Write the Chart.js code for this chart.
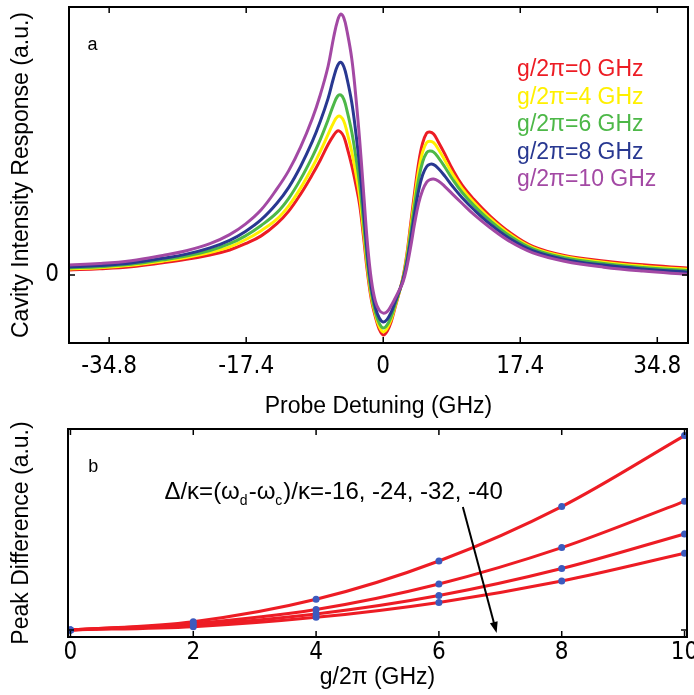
<!DOCTYPE html>
<html>
<head>
<meta charset="utf-8">
<script src="https://cdn.jsdelivr.net/npm/chart.js@4.4.0/dist/chart.umd.min.js"></script>
<style>
  html, body { margin: 0; padding: 0; background: #fff; }
  #wrap { position: relative; width: 694px; height: 695px; overflow: hidden; }
  #chartA { position: absolute; left: 0; top: 0; }
  #chartB { position: absolute; left: 0; top: 420px; }
</style>
</head>
<body>
<div id="wrap">
  <canvas id="chartA" width="694" height="420"></canvas>
  <canvas id="chartB" width="694" height="275"></canvas>
</div>
<script>
// ---- panel a: cavity response vs probe detuning ----
const detuning = [-40, -36, -32, -28, -25, -22, -19.5, -17.5, -15.5, -13.5, -12, -10.5, -9, -8, -7, -6.3, -5.8, -5.4, -5.0, -4.6,
    -4.0, -3.5, -3.0, -2.5, -2.0, -1.5, -1.0, -0.5, 0, 0.5, 1.0, 1.5, 2.0, 2.5, 3.0, 3.5, 4.0, 4.5, 5.0, 5.5, 5.9, 6.4, 7.0, 7.8,
    8.8, 10, 11.5, 13.5, 16, 19, 23, 28, 33, 38.6];
const resp_g0 = [0.019, 0.024, 0.032, 0.047, 0.06, 0.077, 0.096, 0.12, 0.15, 0.197, 0.245, 0.31, 0.385, 0.44, 0.5, 0.535, 0.552,
    0.548, 0.53, 0.49, 0.42, 0.35, 0.27, 0.145, 0.01, -0.095, -0.16, -0.208, -0.23, -0.215, -0.18, -0.125, -0.07, -0.01, 0.08,
    0.2, 0.32, 0.43, 0.505, 0.543, 0.548, 0.54, 0.51, 0.465, 0.405, 0.345, 0.29, 0.228, 0.165, 0.11, 0.075, 0.054, 0.039, 0.027];
const resp_g4 = [0.023, 0.028, 0.037, 0.053, 0.067, 0.086, 0.108, 0.135, 0.17, 0.214, 0.265, 0.333, 0.413, 0.473, 0.539, 0.584,
    0.607, 0.607, 0.589, 0.548, 0.473, 0.394, 0.303, 0.168, 0.026, -0.084, -0.151, -0.198, -0.218, -0.204, -0.171, -0.12, -0.069,
    -0.013, 0.071, 0.183, 0.297, 0.401, 0.471, 0.507, 0.513, 0.507, 0.482, 0.441, 0.387, 0.332, 0.279, 0.219, 0.158, 0.105,
    0.071, 0.049, 0.034, 0.022];
const resp_g6 = [0.027, 0.032, 0.041, 0.058, 0.073, 0.094, 0.12, 0.15, 0.19, 0.239, 0.294, 0.367, 0.453, 0.519, 0.595, 0.653,
    0.685, 0.69, 0.673, 0.63, 0.549, 0.457, 0.349, 0.2, 0.045, -0.071, -0.141, -0.185, -0.203, -0.191, -0.16, -0.114, -0.067,
    -0.016, 0.06, 0.164, 0.272, 0.368, 0.433, 0.468, 0.475, 0.471, 0.45, 0.415, 0.367, 0.317, 0.267, 0.21, 0.151, 0.1, 0.066,
    0.044, 0.029, 0.017];
const resp_g8 = [0.031, 0.036, 0.046, 0.064, 0.08, 0.104, 0.133, 0.167, 0.212, 0.275, 0.336, 0.416, 0.512, 0.588, 0.677, 0.756,
    0.802, 0.815, 0.798, 0.753, 0.662, 0.551, 0.418, 0.248, 0.075, -0.05, -0.124, -0.165, -0.18, -0.17, -0.143, -0.104, -0.064,
    -0.021, 0.046, 0.139, 0.238, 0.325, 0.383, 0.415, 0.424, 0.423, 0.408, 0.38, 0.34, 0.297, 0.251, 0.197, 0.141, 0.093, 0.06,
    0.038, 0.023, 0.011];
const resp_g10 = [0.038, 0.044, 0.055, 0.075, 0.093, 0.12, 0.155, 0.195, 0.25, 0.33, 0.40, 0.49, 0.6, 0.69, 0.8, 0.91, 0.975,
    1.0, 0.985, 0.935, 0.83, 0.69, 0.52, 0.32, 0.12, -0.02, -0.1, -0.135, -0.146, -0.14, -0.118, -0.09, -0.06, -0.028, 0.03,
    0.11, 0.2, 0.275, 0.325, 0.355, 0.365, 0.368, 0.36, 0.34, 0.31, 0.275, 0.232, 0.183, 0.13, 0.085, 0.053, 0.03, 0.015, 0.003];
const legendLabels = ['g/2π=0 GHz', 'g/2π=4 GHz', 'g/2π=6 GHz', 'g/2π=8 GHz', 'g/2π=10 GHz'];
const detuningTicks = [-34.8, -17.4, 0, 17.4, 34.8];
const detuningTickLabels = ['-34.8', '-17.4', '0', '17.4', '34.8'];
const responseTicks = [0];

// ---- panel b: peak difference vs coupling ----
const couplingG = [0, 2, 4, 6, 8, 10];
const diff_16 = [0, 0.043, 0.158, 0.355, 0.635, 1.0];
const diff_24 = [0, 0.034, 0.106, 0.237, 0.424, 0.662];
const diff_32 = [0, 0.026, 0.082, 0.177, 0.316, 0.494];
const diff_40 = [0, 0.017, 0.065, 0.142, 0.252, 0.395];
const deltaRatios = [-16, -24, -32, -40];
const couplingTicks = [0, 2, 4, 6, 8, 10];

const FONT = '"Liberation Sans", Arial, Helvetica, sans-serif';
const TICKFONT = '"Liberation Sans Narrow", "DejaVu Sans Condensed", "Liberation Sans", Arial, sans-serif';
const colors = ['rgb(237,28,36)', 'rgb(255,240,0)', 'rgb(77,184,72)', 'rgb(40,56,145)', 'rgb(163,73,164)'];

const toPoints = (xs, ys) => xs.map((x, i) => ({ x: x, y: ys[i] }));

// keep the plot box where it is, labels may overhang
const noPad = (s) => { s.paddingTop = 0; s.paddingBottom = 0; s.paddingLeft = 0; s.paddingRight = 0; };

// box + inward ticks like matlab
const frameTicks = {
    id: 'frameTicks',
    afterDatasetsDraw(chart) {
        const { ctx, chartArea: a, scales: { x, y } } = chart;
        ctx.save();
        ctx.strokeStyle = '#000';
        ctx.lineWidth = 1.5;
        ctx.beginPath();
        x.ticks.forEach((t) => {
            const px = x.getPixelForValue(t.value);
            ctx.moveTo(px, a.bottom); ctx.lineTo(px, a.bottom - 6);
            ctx.moveTo(px, a.top); ctx.lineTo(px, a.top + 6);
        });
        y.ticks.forEach((t) => {
            const py = y.getPixelForValue(t.value);
            ctx.moveTo(a.left, py); ctx.lineTo(a.left + 6, py);
            ctx.moveTo(a.right, py); ctx.lineTo(a.right - 6, py);
        });
        ctx.stroke();
        ctx.lineWidth = 2;
        ctx.strokeRect(a.left, a.top, a.right - a.left, a.bottom - a.top);
        ctx.restore();
    }
};

const labelsA = {
    id: 'labelsA',
    afterDraw(chart) {
        const { ctx, scales: { x, y } } = chart;
        ctx.save();
        ctx.textBaseline = 'middle';
        ctx.textAlign = 'center';
        ctx.fillStyle = '#000';
        ctx.font = '18px ' + FONT;
        ctx.fillText('a', x.getPixelForValue(-36.9), y.getPixelForValue(0.881));
        ctx.textAlign = 'left';
        ctx.font = '23px ' + FONT;
        const lx = x.getPixelForValue(17.0);
        const ly = y.getPixelForValue(0.785);
        legendLabels.forEach((txt, i) => {
            ctx.fillStyle = colors[i];
            ctx.fillText(txt, lx, ly + i * 27.5);
        });
        ctx.restore();
    }
};

const labelsB = {
    id: 'labelsB',
    afterDraw(chart) {
        const { ctx, scales: { x, y } } = chart;
        ctx.save();
        ctx.fillStyle = '#000';
        ctx.textBaseline = 'middle';
        ctx.textAlign = 'center';
        ctx.font = '18px ' + FONT;
        ctx.fillText('b', x.getPixelForValue(0.37), y.getPixelForValue(0.84));
        // annotation with subscripts
        ctx.textAlign = 'left';
        const size = 24;
        const segs = [['Δ/κ=(ω', false], ['d', true], ['-ω', false], ['c', true],
            [')/κ=' + deltaRatios.join(', '), false]];
        let tx = x.getPixelForValue(1.53);
        const ty = y.getPixelForValue(0.71);
        segs.forEach(([s, sub]) => {
            ctx.font = (sub ? Math.round(size * 0.6) : size) + 'px ' + FONT;
            ctx.fillText(s, tx, sub ? ty + size * 0.4 : ty);
            tx += ctx.measureText(s).width + (sub ? 1 : 0);
        });
        // arrow
        const x0 = x.getPixelForValue(6.39), y0 = y.getPixelForValue(0.633);
        const x1 = x.getPixelForValue(6.94), y1 = y.getPixelForValue(-0.015);
        const ang = Math.atan2(y1 - y0, x1 - x0);
        ctx.strokeStyle = '#000';
        ctx.lineWidth = 2;
        ctx.beginPath();
        ctx.moveTo(x0, y0);
        ctx.lineTo(x1 - 8 * Math.cos(ang), y1 - 8 * Math.sin(ang));
        ctx.stroke();
        ctx.beginPath();
        ctx.moveTo(x1, y1);
        ctx.lineTo(x1 - 11 * Math.cos(ang) + 4 * Math.sin(ang), y1 - 11 * Math.sin(ang) - 4 * Math.cos(ang));
        ctx.lineTo(x1 - 11 * Math.cos(ang) - 4 * Math.sin(ang), y1 - 11 * Math.sin(ang) + 4 * Math.cos(ang));
        ctx.closePath();
        ctx.fill();
        ctx.restore();
    }
};

const respSeries = [resp_g0, resp_g4, resp_g6, resp_g8, resp_g10];

// eslint-disable-next-line no-unused-vars
const chartA = new Chart(document.getElementById('chartA'), {
    type: 'line',
    data: {
        datasets: respSeries.map((s, i) => ({
            label: legendLabels[i],
            data: toPoints(detuning, s),
            borderColor: colors[i],
            borderWidth: 3,
            pointRadius: 0,
            tension: 0.4,
            order: 4 - i
        }))
    },
    options: {
        responsive: false,
        animation: false,
        layout: { padding: { top: 7, right: 6, left: 0, bottom: 0 } },
        plugins: { legend: { display: false }, tooltip: { enabled: false } },
        scales: {
            x: {
                type: 'linear',
                min: -39.9,
                max: 38.7,
                afterBuildTicks: (s) => { s.ticks = detuningTicks.map((v) => ({ value: v })); },
                afterFit: (s) => { s.height = 77; noPad(s); },
                ticks: {
                    callback: (v, i) => detuningTickLabels[i],
                    font: { family: TICKFONT, size: 24 },
                    color: '#000',
                    padding: 9,
                    maxRotation: 0,
                    autoSkip: false
                },
                grid: { display: false, drawTicks: false },
                border: { display: false },
                title: {
                    display: true,
                    text: 'Probe Detuning (GHz)',
                    font: { family: FONT, size: 23 },
                    color: '#000',
                    padding: { top: 0, bottom: 0 }
                }
            },
            y: {
                type: 'linear',
                min: -0.2605,
                max: 1.027,
                afterBuildTicks: (s) => { s.ticks = responseTicks.map((v) => ({ value: v })); },
                afterFit: (s) => { s.width = 69; noPad(s); },
                ticks: {
                    callback: (v) => String(v),
                    font: { family: TICKFONT, size: 24 },
                    color: '#000',
                    padding: 10
                },
                grid: { display: false, drawTicks: false },
                border: { display: false },
                title: {
                    display: true,
                    text: 'Cavity Intensity Response (a.u.)',
                    font: { family: FONT, size: 23 },
                    color: '#000',
                    padding: { top: 8, bottom: 0 }
                }
            }
        }
    },
    plugins: [frameTicks, labelsA]
});

const diffSeries = [diff_16, diff_24, diff_32, diff_40];

// eslint-disable-next-line no-unused-vars
const chartB = new Chart(document.getElementById('chartB'), {
    type: 'line',
    data: {
        datasets: diffSeries.map((s, i) => ({
            label: 'Δ/κ=' + deltaRatios[i],
            data: toPoints(couplingG, s),
            borderColor: 'rgb(237,28,36)',
            borderWidth: 3,
            pointRadius: 3.5,
            pointBorderWidth: 0,
            pointBackgroundColor: 'rgb(60,90,190)',
            cubicInterpolationMode: 'monotone'
        }))
    },
    options: {
        responsive: false,
        animation: false,
        layout: { padding: { top: 9, right: 7, left: 0, bottom: 0 } },
        plugins: { legend: { display: false }, tooltip: { enabled: false } },
        scales: {
            x: {
                type: 'linear',
                min: -0.04,
                max: 10.04,
                afterBuildTicks: (s) => { s.ticks = couplingTicks.map((v) => ({ value: v })); },
                afterFit: (s) => { s.height = 58; noPad(s); },
                ticks: {
                    callback: (v) => String(v),
                    font: { family: TICKFONT, size: 24 },
                    color: '#000',
                    padding: 1,
                    maxRotation: 0,
                    autoSkip: false
                },
                grid: { display: false, drawTicks: false },
                border: { display: false },
                title: {
                    display: true,
                    text: 'g/2π (GHz)',
                    font: { family: FONT, size: 23 },
                    color: '#000',
                    padding: { top: 0, bottom: 4 }
                }
            },
            y: {
                type: 'linear',
                min: -0.036,
                max: 1.034,
                afterBuildTicks: (s) => { s.ticks = [{ value: 0 }]; },
                afterFit: (s) => { s.width = 68; noPad(s); },
                ticks: { callback: () => '', font: { family: TICKFONT, size: 24 } },
                grid: { display: false, drawTicks: false },
                border: { display: false },
                title: {
                    display: true,
                    text: 'Peak Difference (a.u.)',
                    font: { family: FONT, size: 23 },
                    color: '#000',
                    padding: { top: 8, bottom: 0 }
                }
            }
        }
    },
    plugins: [frameTicks, labelsB]
});
</script>
</body>
</html>
